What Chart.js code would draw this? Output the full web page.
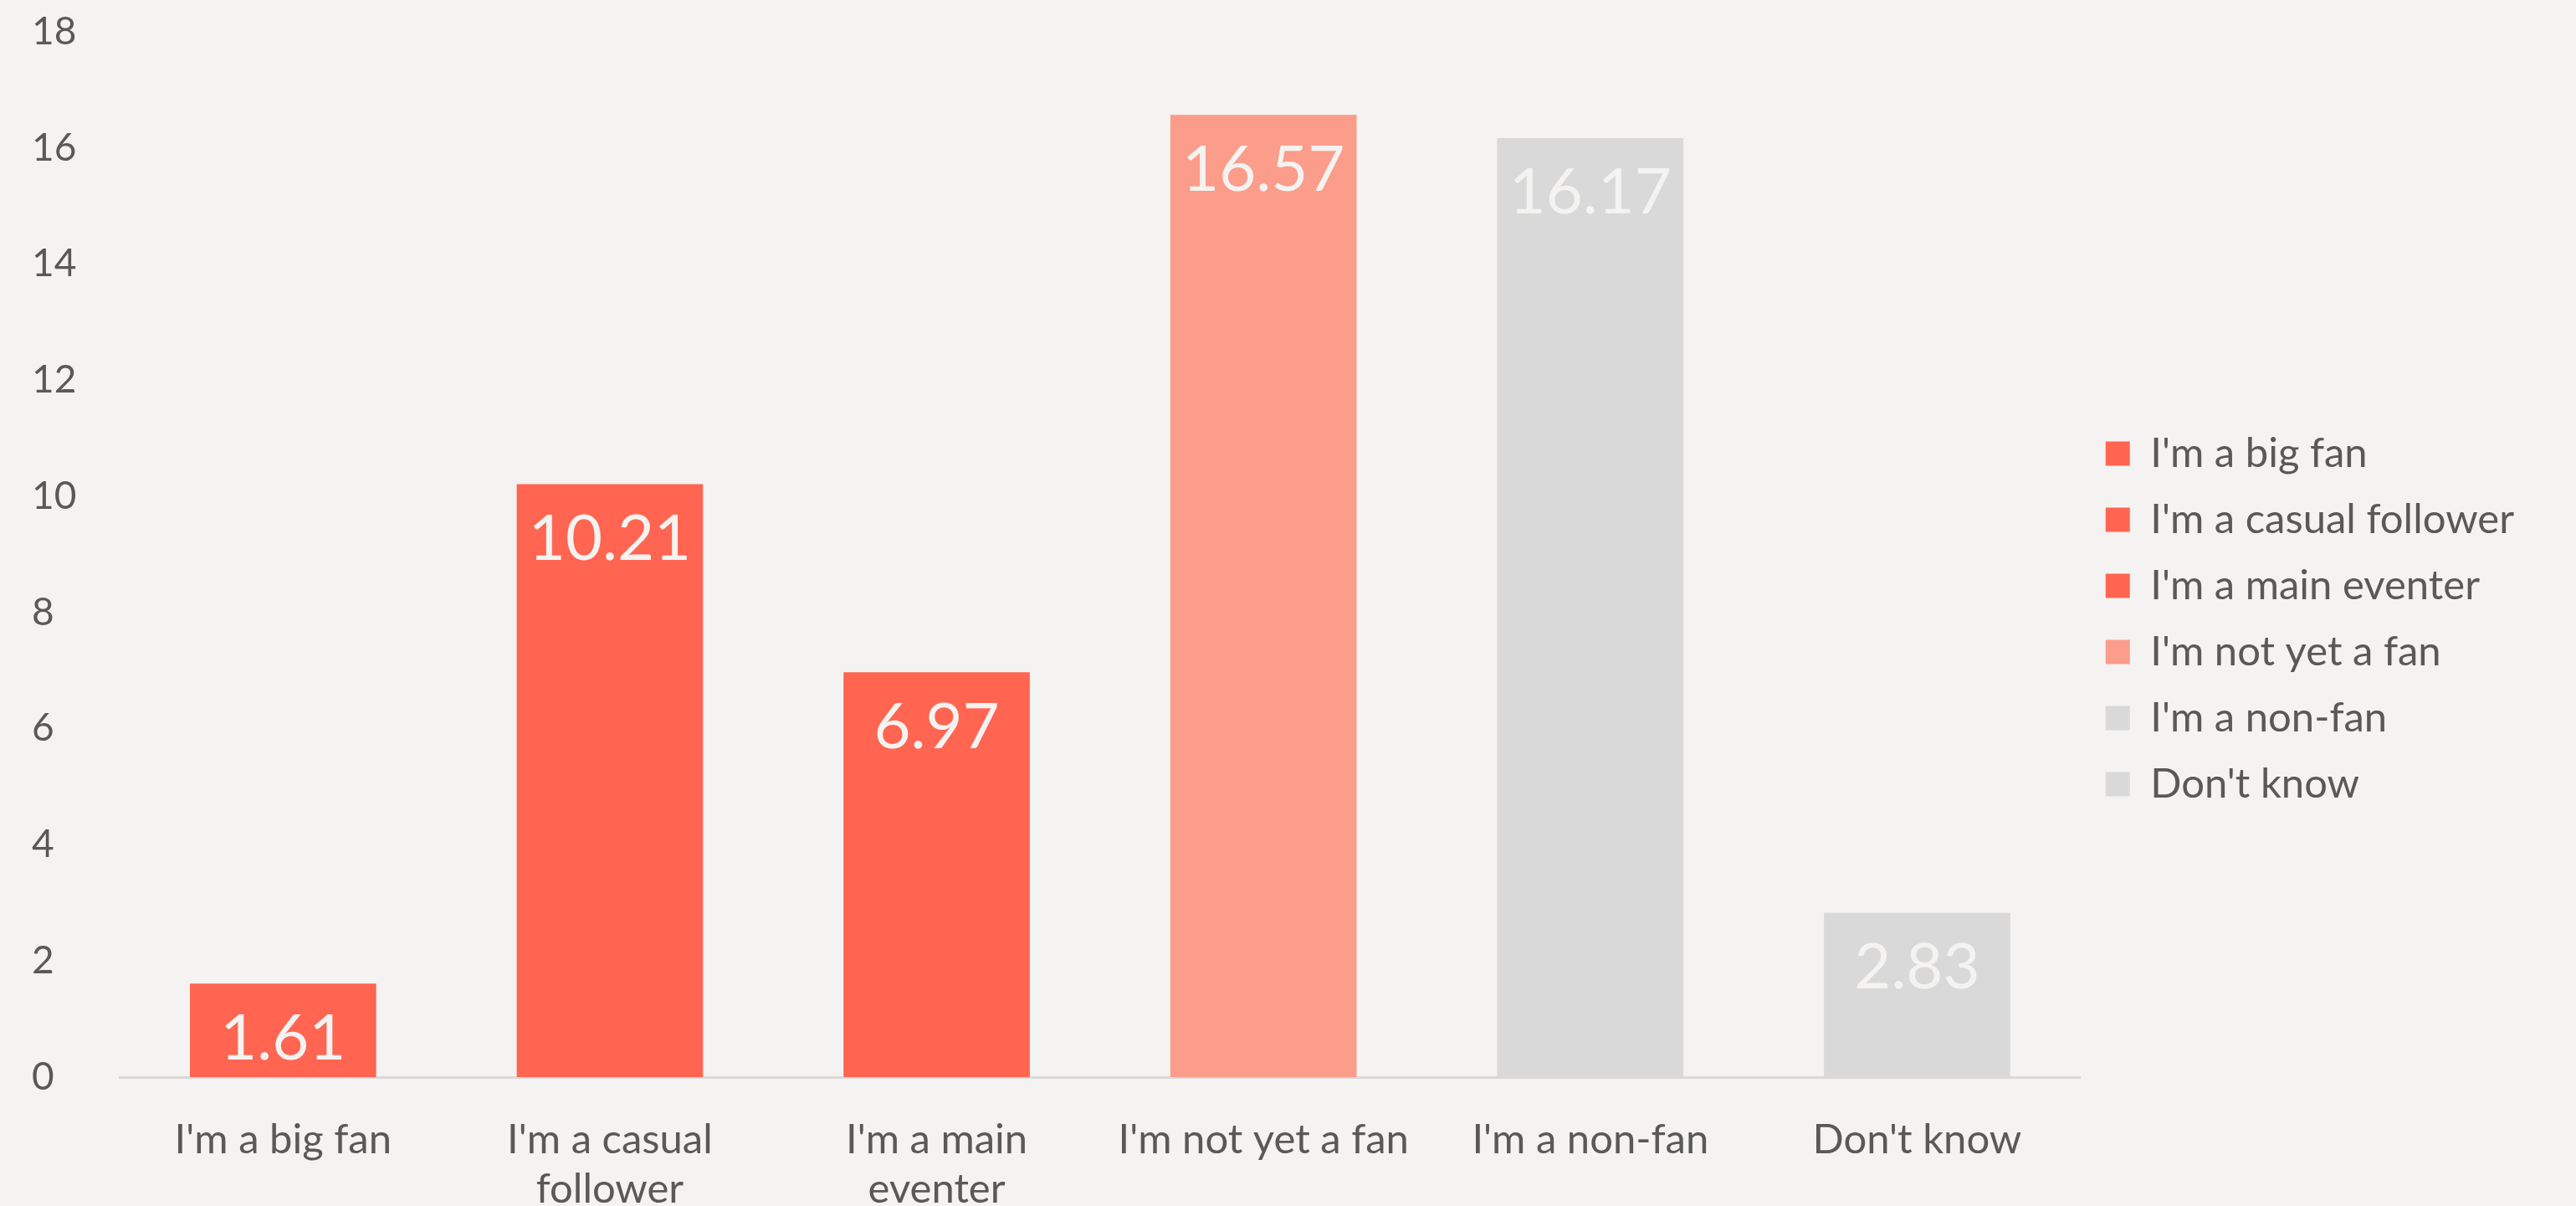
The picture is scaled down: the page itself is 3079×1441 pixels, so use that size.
<!DOCTYPE html>
<html>
<head>
<meta charset="utf-8">
<script src="https://cdn.jsdelivr.net/npm/chart.js@4/dist/chart.umd.min.js"></script>
<style>
  html, body { margin: 0; padding: 0; background: #f4f3f1; }
  #wrap { width: 3079px; height: 1441px; }
</style>
</head>
<body>
<div id="wrap"><canvas id="myChart"></canvas></div>
<script>
// data
const categories = ["I'm a big fan", "I'm a casual follower", "I'm a main eventer", "I'm not yet a fan", "I'm a non-fan", "Don't know"];
const axisLabels = ["I'm a big fan", ["I'm a casual", "follower"], ["I'm a main", "eventer"], "I'm not yet a fan", "I'm a non-fan", "Don't know"];
const values = [1.61, 10.21, 6.97, 16.57, 16.17, 2.83];
const barColors = ["#ff6551", "#ff6551", "#ff6551", "#fc9c8a", "#d9d9d9", "#d9d9d9"];
const yTicks = [0, 2, 4, 6, 8, 10, 12, 14, 16, 18];

const textColor = "#595959";
const fontFamily = "Lato, 'Open Sans', sans-serif";

// value labels inside the top of each bar
const barLabels = {
  id: 'barLabels',
  afterDatasetsDraw(chart) {
    const ctx = chart.ctx;
    const meta = chart.getDatasetMeta(0);
    ctx.save();
    ctx.font = "76px " + fontFamily;
    ctx.fillStyle = "#f4f3f1";
    ctx.textAlign = "center";
    ctx.textBaseline = "middle";
    meta.data.forEach((bar, i) => {
      ctx.fillText(values[i].toFixed(2), bar.x, bar.y + 66);
    });
    ctx.restore();
  }
};

new Chart(document.getElementById("myChart"), {
  type: 'bar',
  data: {
    labels: axisLabels,
    datasets: [{
      label: "Share",
      data: values,
      backgroundColor: barColors,
      barPercentage: 0.57,
      categoryPercentage: 1.0
    }]
  },
  options: {
    responsive: true,
    maintainAspectRatio: false,
    animation: false,
    layout: { padding: { left: 38, top: 38, right: 64, bottom: 0 } },
    plugins: {
      tooltip: { enabled: false },
      legend: {
        position: 'right',
        labels: {
          color: textColor,
          font: { family: fontFamily, size: 49 },
          boxWidth: 29,
          boxHeight: 29,
          padding: 30,
          generateLabels: () => categories.map((c, i) => ({
            text: c,
            fillStyle: barColors[i],
            strokeStyle: barColors[i],
            lineWidth: 0,
            fontColor: textColor,
            index: i
          }))
        }
      }
    },
    scales: {
      x: {
        afterFit: (scale) => { scale.height = 154; },
        grid: { display: false },
        border: { display: true, color: "#d9d9d9", width: 3 },
        ticks: {
          color: textColor,
          font: { family: fontFamily, size: 49, lineHeight: 1.2 },
          padding: 38,
          maxRotation: 0,
          autoSkip: false
        }
      },
      y: {
        min: 0,
        max: 18,
        afterBuildTicks: (scale) => { scale.ticks = yTicks.map(v => ({ value: v })); },
        afterFit: (scale) => { scale.width = 105; },
        grid: { display: false },
        border: { display: false },
        ticks: {
          color: textColor,
          font: { family: fontFamily, size: 46 },
          crossAlign: 'far'
        }
      }
    }
  },
  plugins: [barLabels]
});
</script>
</body>
</html>
